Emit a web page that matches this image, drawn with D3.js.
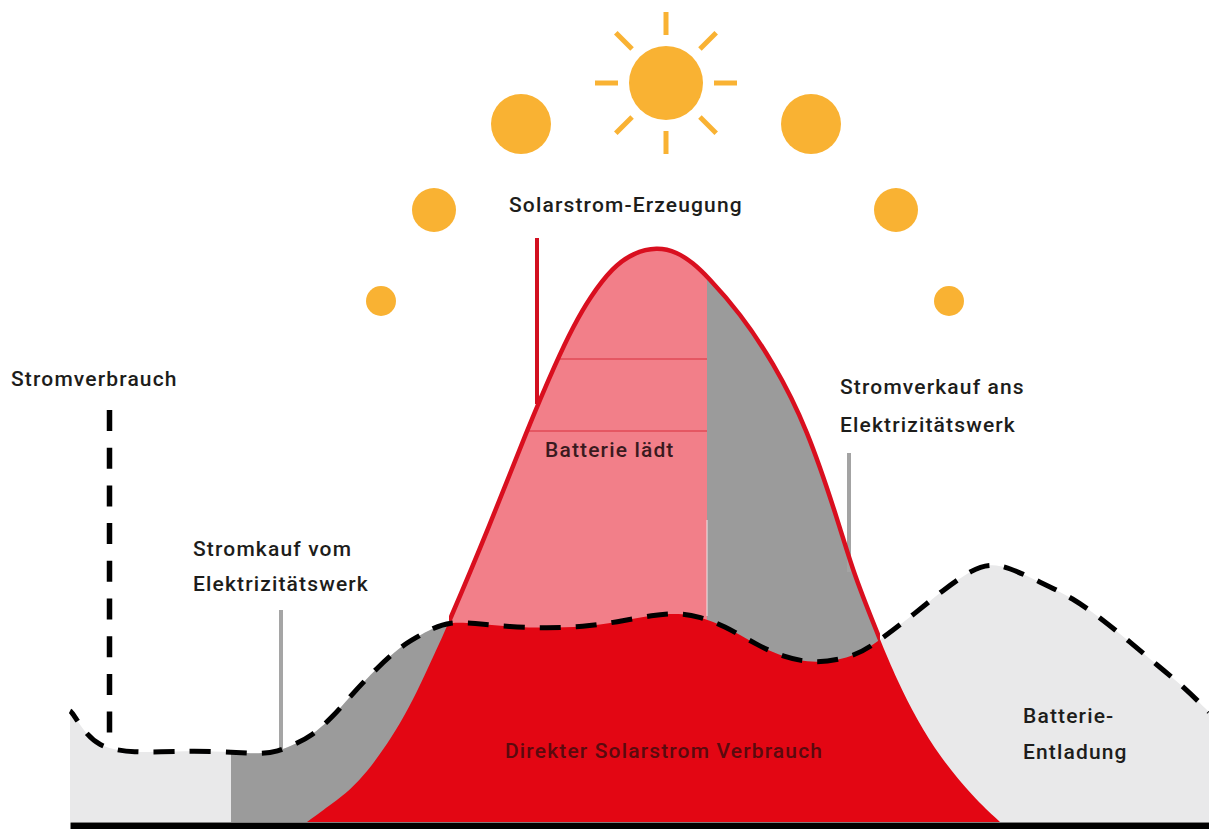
<!DOCTYPE html>
<html>
<head>
<meta charset="utf-8">
<title>Solarstrom</title>
<script src="https://cdn.jsdelivr.net/npm/d3@7"></script>
<style>
  html, body { margin: 0; padding: 0; background: #fff; overflow: hidden; }
  svg { display: block; }
  text { font-family: Roboto, sans-serif; font-weight: 500; font-size: 21px; letter-spacing: 1.15px; fill: #1d1d1b; }
</style>
</head>
<body>
<div id="chart"></div>
<script>
// values, time and power in arbitrary units
var consumptionTime = [0, 0.2, 1.5, 3.0, 4.7, 6.3, 9.0, 12.3, 16.3, 19.0, 20.7, 22.7, 24.0, 26.3, 28.3, 30.7, 33.0, 34.7, 36.3, 38.0, 40.3, 44.0, 47.7, 51.3, 54.7, 58.3, 61.0, 63.0, 65.3, 68.7, 71.3, 74.5, 78.3, 80.3, 82.3, 84.3, 87.3, 90.3, 92.0, 93.8, 97.0, 100.3, 103.3, 106.0, 108.7, 111.5, 113.9];
var consumptionPower = [11.1, 11.0, 8.9, 7.6, 7.2, 7.0, 7.0, 7.1, 7.0, 6.8, 7.0, 7.9, 8.5, 10.5, 12.9, 15.4, 17.5, 18.5, 19.4, 20.0, 19.9, 19.5, 19.4, 19.5, 20.0, 20.7, 20.9, 20.5, 19.7, 17.7, 16.5, 15.8, 16.5, 17.7, 19.2, 20.7, 23.2, 25.3, 25.8, 25.5, 24.0, 22.4, 20.2, 18.0, 15.7, 13.4, 11.0];
var solarTime = [23.7, 26.3, 28.0, 29.7, 31.3, 33.0, 34.7, 36.3, 37.7, 42.0, 45.7, 48.7, 50.3, 52.0, 54.3, 56.3, 58.7, 60.7, 62.3, 63.7, 67.0, 70.3, 73.7, 77.0, 78.3, 81.0, 82.7, 84.7, 87.0, 90.3, 93.0];
var solarPower = [0, 1.9, 3.2, 5.0, 7.2, 9.8, 13.0, 16.5, 19.5, 29.7, 39.2, 46.2, 49.5, 52.5, 55.5, 56.9, 57.5, 57.0, 55.9, 54.6, 50.9, 46.0, 39.5, 29.5, 25.0, 18.2, 14.2, 10.2, 6.5, 2.5, 0];

// sun path: time, height, size
var sunTime = [31.1, 36.4, 45.1, 59.6, 74.1, 82.6, 87.9];
var sunHeight = [52.1, 61.2, 69.8, 73.9, 69.8, 61.2, 52.1];
var sunSize = [15, 22, 30, 37, 30, 22, 15];
var rayAngles = [0, 45, 90, 135, 180, 225, 270, 315];

// markers on the time axis
var gridStartTime = 16.1;      // buying from the utility starts
var crossLeftTime = 37.9;      // solar passes consumption
var batteryFullTime = 63.7;    // battery full, selling starts
var crossRightTime = 81.0;     // solar falls under consumption
var batteryLevels = [39.1, 46.3];

var width = 1209, height = 829;

var x = d3.scaleLinear().domain([0, 113.9]).range([70, 1209]);
var y = d3.scaleLinear().domain([0, 57.2]).range([822, 250]);

var consumption = consumptionTime.map(function(d, i) { return {t: d, p: consumptionPower[i]}; });
var solar = solarTime.map(function(d, i) { return {t: d, p: solarPower[i]}; });

var svg = d3.select("#chart")
  .append("svg")
    .attr("width", width)
    .attr("height", height);

var area = d3.area()
  .x(function(d) { return x(d.t); })
  .y0(y(0))
  .y1(function(d) { return y(d.p); })
  .curve(d3.curveBasis);

var line = d3.line()
  .x(function(d) { return x(d.t); })
  .y(function(d) { return y(d.p); })
  .curve(d3.curveBasis);

// clip regions
var defs = svg.append("defs");
defs.append("clipPath").attr("id", "underConsumption")
  .append("path").attr("d", area(consumption));

function timeClip(id, t0, t1) {
  defs.append("clipPath").attr("id", id)
    .append("rect")
      .attr("x", x(t0))
      .attr("y", 0)
      .attr("width", x(t1) - x(t0))
      .attr("height", height);
}
timeClip("buying", gridStartTime, crossLeftTime);
timeClip("charging", crossLeftTime, batteryFullTime);
timeClip("selling", batteryFullTime, crossRightTime);
timeClip("surplus", crossLeftTime, crossRightTime);

// consumption, light grey
svg.append("path")
  .attr("d", area(consumption))
  .attr("fill", "#e9e9ea");

// bought from the utility
svg.append("path")
  .attr("d", area(consumption))
  .attr("fill", "#9b9b9b")
  .attr("clip-path", "url(#buying)");

// solar surplus
svg.append("path")
  .attr("d", area(solar))
  .attr("fill", "#f27f89")
  .attr("clip-path", "url(#charging)");
svg.append("path")
  .attr("d", area(solar))
  .attr("fill", "#9b9b9b")
  .attr("clip-path", "url(#selling)");

// direct use
svg.append("path")
  .attr("d", area(solar))
  .attr("fill", "#e30613")
  .attr("clip-path", "url(#underConsumption)");

// battery level lines
svg.selectAll("line.level")
  .data(batteryLevels)
  .enter()
  .append("line")
    .attr("class", "level")
    .attr("x1", function(d) {
      // start on the rising edge of the solar curve
      var i = d3.bisector(function(s) { return s.p; }).left(solar.slice(0, 17), d);
      var a = solar[i - 1], b = solar[i];
      return x(a.t + (b.t - a.t) * (d - a.p) / (b.p - a.p));
    })
    .attr("x2", x(batteryFullTime))
    .attr("y1", function(d) { return y(d); })
    .attr("y2", function(d) { return y(d); })
    .attr("stroke", "#d8303c")
    .attr("stroke-width", 1);

// thin light edge between pink and grey
svg.append("line")
  .attr("x1", x(batteryFullTime)).attr("x2", x(batteryFullTime))
  .attr("y1", 520).attr("y2", 616)
  .attr("stroke", "#f3e6e7")
  .attr("stroke-width", 1);

// leader lines
function leader(px, y1, y2, color) {
  svg.append("line")
    .attr("x1", px).attr("x2", px)
    .attr("y1", y1).attr("y2", y2)
    .attr("stroke", color)
    .attr("stroke-width", 4);
}
leader(281, 610, 750, "#a5a5a5");
leader(849, 453, 572, "#a3a3a3");
leader(537, 238, 404, "#d20f20");

// solar curve outline
svg.append("path")
  .attr("d", line(solar))
  .attr("fill", "none")
  .attr("stroke", "#d90f1f")
  .attr("stroke-width", 4.5)
  .attr("clip-path", "url(#surplus)");

// consumption curve, dashed
svg.append("path")
  .attr("d", line(consumption))
  .attr("fill", "none")
  .attr("stroke", "#000")
  .attr("stroke-width", 5)
  .attr("stroke-dasharray", "21,15")
  .attr("stroke-dashoffset", 8);

svg.append("line")
  .attr("x1", 109.5).attr("x2", 109.5)
  .attr("y1", 410).attr("y2", 748)
  .attr("stroke", "#000")
  .attr("stroke-width", 5.5)
  .attr("stroke-dasharray", "21,16.7");

// baseline
svg.append("g")
  .attr("transform", "translate(0," + (y(0) + 3.5) + ")")
  .call(d3.axisBottom(x).tickValues([]).tickSizeOuter(0))
  .select(".domain")
    .attr("stroke", "#000")
    .attr("stroke-width", 7);

// suns
svg.selectAll("circle.sun")
  .data(sunTime)
  .enter()
  .append("circle")
    .attr("class", "sun")
    .attr("cx", function(d) { return x(d); })
    .attr("cy", function(d, i) { return y(sunHeight[i]); })
    .attr("r", function(d, i) { return sunSize[i]; })
    .attr("fill", "#f9b233");

// rays of the midday sun
svg.selectAll("line.ray")
  .data(rayAngles)
  .enter()
  .append("line")
    .attr("class", "ray")
    .attr("x1", function(d) { return x(sunTime[3]) + 48 * Math.cos(d * Math.PI / 180); })
    .attr("y1", function(d) { return y(sunHeight[3]) + 48 * Math.sin(d * Math.PI / 180); })
    .attr("x2", function(d) { return x(sunTime[3]) + 71 * Math.cos(d * Math.PI / 180); })
    .attr("y2", function(d) { return y(sunHeight[3]) + 71 * Math.sin(d * Math.PI / 180); })
    .attr("stroke", "#f9b233")
    .attr("stroke-width", 5);

// labels
function label(txt, px, py, color) {
  svg.append("text")
    .attr("x", px)
    .attr("y", py)
    .style("fill", color || "#1d1d1b")
    .text(txt);
}
label("Stromverbrauch", 11, 386);
label("Solarstrom-Erzeugung", 509, 212);
label("Stromverkauf ans", 840, 394);
label("Elektrizitätswerk", 840, 432);
label("Stromkauf vom", 193, 556);
label("Elektrizitätswerk", 193, 591);
label("Batterie lädt", 545, 457, "#3a1a1e");
label("Direkter Solarstrom Verbrauch", 505, 758, "#5a0a0e");
label("Batterie-", 1023, 723);
label("Entladung", 1023, 759);
</script>
</body>
</html>
